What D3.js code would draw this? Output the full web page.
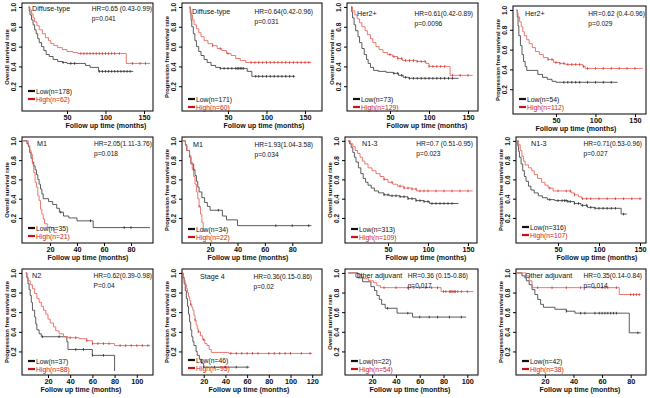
<!DOCTYPE html>
<html><head><meta charset="utf-8">
<script src="https://cdn.jsdelivr.net/npm/d3@7"></script>
<style>body{margin:0;background:#fff}svg text{font-family:"Liberation Sans",Arial,sans-serif}</style>
</head><body><svg id="c" width="650" height="398"></svg>
<script>
// ---------- data ----------
const subgroups = ["Diffuse-type","Diffuse-type","Her2+","Her2+","M1","M1","N1-3","N1-3","N2","Stage 4","Other adjuvant","Other adjuvant"];
const yTitles = ["Overall survival rate","Progression free survival rate","Overall survival rate","Progression free survival rate",
  "Overall survival rate","Progression free survival rate","Overall survival rate","Progression free survival rate",
  "Progression free survival rate","Progression free survival rate","Overall survival rate","Progression free survival rate"];
const hrLabels = ["HR=0.65 (0.43-0.99)","HR=0.64(0.42-0.96)","HR=0.61(0.42-0.89)","HR=0.62 (0.4-0.96)",
  "HR=2.05(1.11-3.76)","HR=1.93(1.04-3.58)","HR=0.7 (0.51-0.95)","HR=0.71(0.53-0.96)",
  "HR=0.62(0.39-0.98)","HR=0.36(0.15-0.86)","HR=0.36 (0.15-0.86)","HR=0.35(0.14-0.84)"];
const pLabels = ["p=0.041","p=0.031","p=0.0096","p=0.029","p=0.018","p=0.034","p=0.023","p=0.027","P=0.04","p=0.02","p=0.017","p=0.014"];
const lowN = [178,171,73,54,35,34,313,316,37,46,22,42];
const highN = [62,60,129,112,21,22,109,107,88,95,54,38];
const xTickValues = [[50,100,150],[50,100,150],[50,100,150],[50,100,150],[20,40,60,80],[20,40,60,80],
  [50,100,150],[50,100,150],[20,40,60,80,100],[20,40,60,80,100,120],[20,40,60,80,100],[20,40,60,80]];
const yTickValues = [0.2,0.4,0.6,0.8,1.0];
const xTitle = "Follow up time (months)";

// survival steps [month, survival]
const lowSteps = [
 [[0,1],[1,0.96],[2,0.92],[4,0.87],[6,0.82],[8,0.77],[10,0.73],[12,0.68],[14,0.64],[17,0.6],[20,0.56],[23,0.52],[27,0.5],[32,0.47],[38,0.45],[44,0.44],[50,0.43],[74,0.41],[80,0.39],[91,0.35]],
 [[0,1],[1,0.94],[2,0.87],[3,0.8],[5,0.73],[7,0.66],[9,0.6],[12,0.55],[15,0.51],[19,0.47],[23,0.44],[28,0.41],[34,0.39],[40,0.38],[75,0.35],[81,0.3]],
 [[0,1],[1,0.95],[2,0.89],[4,0.82],[6,0.76],[9,0.7],[11,0.64],[14,0.58],[17,0.52],[20,0.47],[22,0.43],[25,0.39],[29,0.36],[35,0.35],[45,0.34],[54,0.33],[61,0.31],[67,0.29],[74,0.28]],
 [[0,1],[1,0.93],[2,0.84],[3,0.74],[5,0.64],[7,0.55],[9,0.48],[11,0.43],[13,0.39],[27,0.35],[33,0.32],[39,0.3],[45,0.28],[50,0.27]],
 [[0,1],[3,0.97],[4,0.94],[5,0.88],[6,0.82],[7,0.78],[8,0.74],[9,0.7],[10,0.65],[11,0.6],[12,0.55],[13,0.5],[14,0.45],[15,0.4],[19,0.37],[22,0.34],[25,0.3],[27,0.26],[30,0.22],[34,0.2],[40,0.17],[52,0.1]],
 [[0,1],[2,0.96],[3,0.9],[5,0.83],[6,0.76],[8,0.7],[9,0.64],[10,0.58],[11,0.52],[12,0.47],[14,0.41],[16,0.36],[18,0.32],[20,0.28],[29,0.22],[32,0.18],[40,0.12]],
 [[0,1],[2,0.97],[4,0.93],[6,0.88],[8,0.83],[10,0.78],[13,0.72],[16,0.66],[19,0.61],[22,0.57],[25,0.54],[29,0.51],[33,0.48],[38,0.46],[45,0.44],[52,0.43],[65,0.42],[75,0.4],[85,0.38],[95,0.37],[102,0.35]],
 [[0,1],[1,0.95],[2,0.89],[3,0.83],[5,0.76],[7,0.69],[9,0.63],[11,0.58],[14,0.53],[17,0.49],[21,0.46],[26,0.43],[31,0.41],[37,0.39],[46,0.38],[62,0.37],[70,0.35],[78,0.33],[86,0.31],[95,0.3],[127,0.24]],
 [[0,1],[1,0.95],[2,0.89],[3,0.83],[4,0.77],[5,0.7],[6,0.62],[8,0.55],[9,0.48],[10,0.42],[12,0.38],[14,0.35],[37,0.3],[38,0.22],[60,0.16],[80,0]],
 [[0,1],[1,0.95],[2,0.89],[3,0.82],[4,0.74],[5,0.66],[6,0.58],[7,0.5],[8,0.42],[9,0.35],[10,0.3],[11,0.26],[13,0.2],[14,0.16],[16,0.12],[18,0.08],[20,0.04]],
 [[0,1],[8,0.95],[12,0.91],[19,0.86],[22,0.82],[24,0.77],[26,0.73],[28,0.68],[31,0.64],[41,0.59],[54,0.55]],
 [[0,1],[4,0.97],[6,0.95],[7,0.92],[9,0.88],[11,0.83],[13,0.78],[15,0.73],[17,0.68],[19,0.65],[27,0.63],[35,0.61],[41,0.59],[79,0.39]]
];
const highSteps = [
 [[0,1],[2,0.97],[4,0.93],[6,0.89],[8,0.85],[11,0.81],[14,0.77],[18,0.73],[22,0.69],[26,0.66],[29,0.63],[33,0.61],[38,0.59],[44,0.57],[50,0.55],[58,0.54],[64,0.53],[127,0.43]],
 [[0,1],[1,0.97],[2,0.92],[4,0.87],[6,0.82],[9,0.78],[12,0.74],[15,0.7],[19,0.66],[24,0.63],[30,0.61],[36,0.58],[42,0.56],[48,0.53],[54,0.51],[60,0.48],[66,0.46],[73,0.44]],
 [[0,1],[2,0.96],[5,0.92],[8,0.88],[11,0.84],[14,0.8],[18,0.76],[21,0.72],[25,0.68],[28,0.64],[32,0.6],[36,0.57],[41,0.54],[47,0.52],[53,0.5],[60,0.48],[66,0.46],[84,0.45],[96,0.43],[100,0.4],[127,0.31]],
 [[0,1],[1,0.97],[2,0.93],[4,0.88],[6,0.83],[8,0.78],[10,0.74],[13,0.7],[16,0.66],[20,0.62],[24,0.58],[29,0.55],[34,0.52],[40,0.5],[47,0.47],[55,0.46],[62,0.45],[84,0.43],[87,0.41]],
 [[0,1],[4,0.95],[5,0.9],[6,0.86],[7,0.76],[8,0.67],[9,0.57],[10,0.52],[11,0.43],[12,0.38],[13,0.29],[14,0.24],[15,0.19],[16,0.14],[18,0.1],[23,0.05]],
 [[0,1],[2,0.95],[3,0.9],[5,0.85],[6,0.78],[7,0.7],[8,0.63],[9,0.55],[10,0.47],[11,0.4],[12,0.32],[13,0.24],[14,0.15],[15,0.06]],
 [[0,1],[3,0.97],[6,0.94],[9,0.9],[12,0.87],[15,0.83],[18,0.79],[21,0.76],[25,0.72],[30,0.69],[35,0.66],[40,0.63],[45,0.6],[50,0.57],[56,0.55],[62,0.53],[70,0.51],[80,0.5],[86,0.48]],
 [[0,1],[2,0.96],[4,0.9],[6,0.84],[8,0.79],[10,0.75],[14,0.72],[18,0.69],[21,0.65],[25,0.61],[30,0.57],[34,0.54],[38,0.51],[44,0.48],[66,0.46],[70,0.44],[75,0.42],[79,0.4]],
 [[0,1],[1,0.96],[2,0.92],[4,0.88],[6,0.84],[8,0.79],[10,0.74],[12,0.7],[14,0.66],[16,0.62],[18,0.58],[20,0.53],[22,0.49],[25,0.45],[27,0.41],[30,0.38],[34,0.35],[38,0.34],[48,0.33],[55,0.31],[60,0.28],[80,0.26]],
 [[0,1],[1,0.96],[2,0.92],[3,0.88],[4,0.84],[5,0.8],[6,0.76],[7,0.72],[8,0.68],[9,0.65],[10,0.62],[11,0.57],[12,0.52],[13,0.47],[14,0.43],[15,0.4],[17,0.36],[19,0.32],[21,0.28],[23,0.26],[25,0.22],[27,0.19],[43,0.18]],
 [[0,1],[8,0.98],[11,0.96],[13,0.94],[17,0.92],[21,0.9],[24,0.87],[27,0.85],[78,0.81]],
 [[0,1],[7,0.97],[9,0.92],[11,0.85],[72,0.78]]
];
const lowEnd = [136,137,138,128,94,94,138,134,80,62,99,87];
const highEnd = [158,158,156,160,25,15.5,156,152,112,120,105,87];
const lowCensor = [
 [45,55,60,92,96,100,104,108,112,116,120,124,128,132],
 [40,45,50,55,60,62,64,66,68,70,86,90,95,100,105,110,115,120,125,130,135],
 [55,60,65,70,75,80,85,90,95,100,105,110,115,120,125,130],
 [60,65,70,75,80,90,100,110,120],
 [28,50,75,80],
 [8,26,68,80,92],
 [45,50,55,60,65,70,75,80,85,90,95,100,105,110,115,120,125,130],
 [40,50,55,58,60,62,65,70,75,80,85,90,95,100,105,110,115,120,130],
 [15,30,45,52,60,70],
 [20,30,40,50,60],
 [33,50,60,68,75,85,95],
 [35,45,48,55,58,60,62,64,66,68,70,85]
];
const highCensor = [
 [68,72,76,80,84,88,92,96,100,104,108,112,118,135,145,152],
 [30,40,50,80,85,90,95,100,105,110,115,120,125,130,135,140,145,150,155],
 [50,55,60,65,70,75,80,85,90,95,100,105,110,115,120,130,140,150],
 [40,45,50,55,60,65,70,75,80,85,90,100,110,120,130,140,150],
 [],
 [12],
 [45,55,65,70,75,80,85,90,95,100,110,120,130,140,150],
 [40,50,60,65,70,80,85,90,100,110,120,130,140,150],
 [40,45,55,60,65,70,75,85,90,95,100,105,110],
 [8,12,15,20,45,50,55,60,65,70,80,85,90,95,100,110,118],
 [30,40,50,55,60,65,70,75,80,82,85,86,87,88,89,90,92,95,100],
 [15,25,35,45,55,60,62,64,70,80,82,84,86]
];

// ---------- layout (positions only) ----------
const layout = [
 {x0:22,x1:153,y0:3,y1:111,xd:[-8.4,161.7],yd:[-0.05,1.04],lab:[10,8],hr:1,ly:20,tc:106},
 {x0:182,x1:322,y0:3,y1:111,xd:[-9.7,172.1],yd:[-0.05,1.04],lab:[10,11],hr:9,ly:12,tc:264},
 {x0:347,x1:478,y0:3,y1:111,xd:[-5.1,162.8],yd:[-0.05,1.04],lab:[10,13],hr:5,ly:12,tc:427},
 {x0:513,x1:646,y0:6,y1:114,xd:[-4.4,164.0],yd:[-0.05,1.04],lab:[12,10],hr:1,ly:15,tc:576},
 {x0:22,x1:153,y0:137,y1:243,xd:[-0.7,96.3],yd:[-0.06,1.04],lab:[15,9],hr:1,ly:15,tc:88},
 {x0:182,x1:322,y0:137,y1:243,xd:[-0.5,101.7],yd:[-0.06,1.04],lab:[11,10],hr:9,ly:14,tc:248},
 {x0:345,x1:477,y0:137,y1:243,xd:[-3.75,161.25],yd:[-0.06,1.04],lab:[17,9],hr:4,ly:14,tc:426},
 {x0:516,x1:646,y0:137,y1:243,xd:[-1.2,157.3],yd:[-0.06,1.04],lab:[15,9],hr:4,ly:16,tc:597},
 {x0:22,x1:153,y0:269,y1:375,xd:[-3.4,114.6],yd:[-0.04,1.04],lab:[10,9],hr:1,ly:14,tc:81},
 {x0:182,x1:322,y0:269,y1:375,xd:[0,129],yd:[-0.04,1.04],lab:[18,10],hr:10,ly:15,tc:249},
 {x0:345,x1:478,y0:269,y1:375,xd:[-2.8,109.0],yd:[-0.04,1.04],lab:[10,9],hr:10,ly:14,tc:410},
 {x0:516,x1:646,y0:269,y1:375,xd:[-0.2,90.7],yd:[-0.04,1.04],lab:[9,9],hr:4,ly:14,tc:580}
];
const LOW_COL = "#4a4a4a", HIGH_COL = "#ea6a62", HIGH_MARK = "#cc2a2a", HIGH_TXT = "#d01818";

// ---------- draw ----------
const svg = d3.select("#c");
function survAt(steps, t){ let s = 1; for (const [tt, v] of steps) if (tt <= t) s = v; return s; }

layout.forEach((L, i) => {
  const g = svg.append("g");
  const x = d3.scaleLinear().domain(L.xd).range([L.x0, L.x1]);
  const y = d3.scaleLinear().domain(L.yd).range([L.y1, L.y0]);

  // x axis
  const gx = g.append("g").attr("transform", `translate(0,${L.y1})`)
    .call(d3.axisBottom(x).tickValues(xTickValues[i]).tickSize(3).tickPadding(1).tickFormat(d3.format("d")));
  gx.select(".domain").remove();
  gx.attr("font-family", null).attr("font-size", null);
  gx.selectAll("text").attr("font-size", 7.3).attr("font-weight", "bold").attr("fill", "#111");

  // y axis
  const gy = g.append("g").attr("transform", `translate(${L.x0},0)`)
    .call(d3.axisLeft(y).tickValues(yTickValues).tickSize(3).tickFormat(d3.format(".1f")));
  gy.select(".domain").remove();
  gy.attr("font-family", null).attr("font-size", null);
  gy.selectAll("text").attr("x", null).attr("dy", null).attr("text-anchor", "middle")
    .attr("transform", "translate(-6,0) rotate(-90)").attr("font-size", 6.5).attr("font-weight", "bold").attr("fill", "#111");

  // box
  g.append("rect").attr("x", L.x0).attr("y", L.y0).attr("width", L.x1 - L.x0).attr("height", L.y1 - L.y0)
    .attr("fill", "none").attr("stroke", "#000").attr("stroke-width", 1);

  // axis titles
  g.append("text").attr("x", L.tc).attr("y", L.y1 + 17).attr("text-anchor", "middle")
    .attr("font-size", 7).attr("font-weight", "bold").attr("fill", "#111").text(xTitle);
  g.append("text").attr("transform", `translate(${L.x0 - 13},${(L.y0 + L.y1) / 2}) rotate(-90)`)
    .attr("text-anchor", "middle").attr("font-size", 5.8).attr("font-weight", "bold").attr("fill", "#111").text(yTitles[i]);

  // curves
  const line = d3.line().x(d => x(d[0])).y(d => y(d[1])).curve(d3.curveStepAfter);
  const series = [
    {steps: lowSteps[i], end: lowEnd[i], cens: lowCensor[i], col: LOW_COL, mark: "#222"},
    {steps: highSteps[i], end: highEnd[i], cens: highCensor[i], col: HIGH_COL, mark: HIGH_MARK}
  ];
  series.forEach(s => {
    const pts = s.steps.concat([[s.end, s.steps[s.steps.length - 1][1]]]);
    g.append("path").attr("d", line(pts)).attr("fill", "none").attr("stroke", s.col).attr("stroke-width", 0.9);
    g.selectAll(null).data(s.cens).enter().append("line")
      .attr("x1", d => x(d)).attr("x2", d => x(d))
      .attr("y1", d => y(survAt(s.steps, d)) - 1.3).attr("y2", d => y(survAt(s.steps, d)) + 1.3)
      .attr("stroke", s.mark).attr("stroke-width", 0.8);
  });

  // subgroup label and stats
  g.append("text").attr("x", L.x0 + L.lab[0]).attr("y", L.y0 + L.lab[1]).attr("font-size", 7.2).attr("fill", "#111").text(subgroups[i]);
  const hr = g.append("text").attr("x", L.x1 - L.hr).attr("y", L.y0 + L.lab[1]).attr("text-anchor", "end")
    .attr("font-size", 6.6).attr("fill", "#111").text(hrLabels[i]);
  const hx = hr.node().getBBox().x;
  g.append("text").attr("x", hx).attr("y", L.y0 + L.lab[1] + 10).attr("font-size", 6.6).attr("fill", "#111").text(pLabels[i]);

  // legend
  const lyL = L.y1 - L.ly, lyH = lyL + 8;
  g.append("line").attr("x1", L.x0 + 6).attr("x2", L.x0 + 13).attr("y1", lyL).attr("y2", lyL).attr("stroke", "#111").attr("stroke-width", 2.2);
  g.append("line").attr("x1", L.x0 + 6).attr("x2", L.x0 + 13).attr("y1", lyH).attr("y2", lyH).attr("stroke", "#c8101a").attr("stroke-width", 2.2);
  g.append("text").attr("x", L.x0 + 14).attr("y", lyL + 2.5).attr("font-size", 6.8).attr("fill", "#111").text(`Low(n=${lowN[i]})`);
  g.append("text").attr("x", L.x0 + 14).attr("y", lyH + 2.5).attr("font-size", 6.8).attr("fill", HIGH_TXT).text(`High(n=${highN[i]})`);
});
</script></body></html>
